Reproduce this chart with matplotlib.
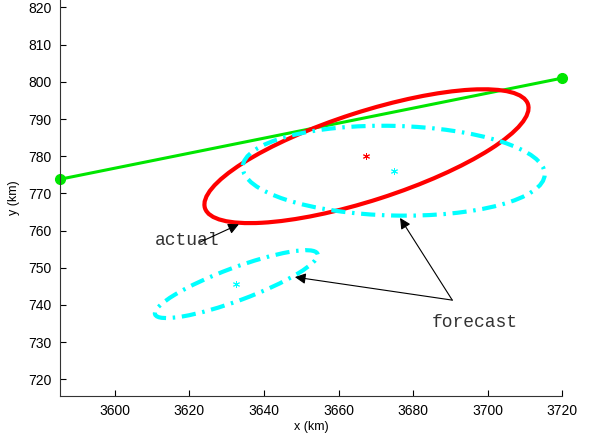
import matplotlib
matplotlib.use("Agg")
import matplotlib.pyplot as plt
from matplotlib.patches import Ellipse

# --- Data ---
track_x = [3585.3, 3720.0]
track_y = [773.8, 801.0]

actual_center = (3667.5, 780.0)
actual_axes = (91.0, 23.8)        # full width, height
actual_angle = 17.9

fc_centers = [(3674.8, 776.1), (3632.6, 745.6)]
fc_axes = [(81.0, 24.1), (46.5, 8.8)]
fc_angles = [-1.4, 20.5]

actual_label = "actual"
forecast_label = "forecast"
actual_text_pos = (3610.8, 757.2)
actual_arrow = [(3622.9, 756.9), (3633.3, 761.7)]
forecast_text_pos = (3685.1, 735.4)
forecast_tail = (3690.5, 741.3)
forecast_heads = [(3676.5, 763.4), (3648.3, 747.5)]

xticks = [3600, 3620, 3640, 3660, 3680, 3700, 3720]
yticks = [720, 730, 740, 750, 760, 770, 780, 790, 800, 810, 820]

plt.rcParams["font.family"] = ["Liberation Sans", "DejaVu Sans"]

fig = plt.figure(figsize=(5.9, 4.36), dpi=100)
ax = fig.add_axes([59.7 / 590, 40.3 / 436, (562.3 - 59.7) / 590, (436 - 40.3) / 436])

# ellipses
ax.add_patch(Ellipse(actual_center, *actual_axes, angle=actual_angle,
                     fill=False, ec="red", lw=3, zorder=3))
for c, (w, h), ang in zip(fc_centers, fc_axes, fc_angles):
    ax.add_patch(Ellipse(c, w, h, angle=ang, fill=False, ec="#00ffff", lw=3,
                         linestyle=(0, (3.4, 1.6, 0.6, 1.6)), zorder=3))

# centres
star = dict(marker=(6, 2, 0), ms=5, mew=0.7, ls="none", zorder=4)
ax.plot(*actual_center, color="red", **star)
ax.plot(*fc_centers[0], color="#00ffff", **star)
ax.plot(*fc_centers[1], color="#00ffff", **star)

# track
ax.plot(track_x, track_y, color="#00e600", lw=2.2, marker="o", ms=7,
        clip_on=False, zorder=2)

# annotations
arrow_kw = dict(arrowstyle="-|>", color="k", lw=0.8, mutation_scale=16,
                shrinkA=0, shrinkB=0)
ax.text(*actual_text_pos, actual_label, family="Liberation Mono", fontsize=13,
        va="center", ha="left", color="#333333")
ax.annotate("", xy=actual_arrow[1], xytext=actual_arrow[0], arrowprops=arrow_kw)
ax.text(*forecast_text_pos, forecast_label, family="Liberation Mono", fontsize=13,
        va="center", ha="left", color="#333333")
for head in forecast_heads:
    ax.annotate("", xy=head, xytext=forecast_tail, arrowprops=arrow_kw)

ax.set_xlim(3585.25, 3720)
ax.set_ylim(715.6, 822)
ax.set_xticks(xticks)
ax.set_yticks(yticks)
ax.tick_params(direction="in", length=4, width=0.8, labelsize=10, pad=6)
for s in ["top", "right"]:
    ax.spines[s].set_visible(False)
for s in ["left", "bottom"]:
    ax.spines[s].set_linewidth(0.8)
    ax.spines[s].set_color("#333333")
ax.set_xlabel("x (km)", fontsize=9, labelpad=2)
ax.set_ylabel("y (km)", fontsize=9, labelpad=6)

fig.savefig("out.png", dpi=100)
